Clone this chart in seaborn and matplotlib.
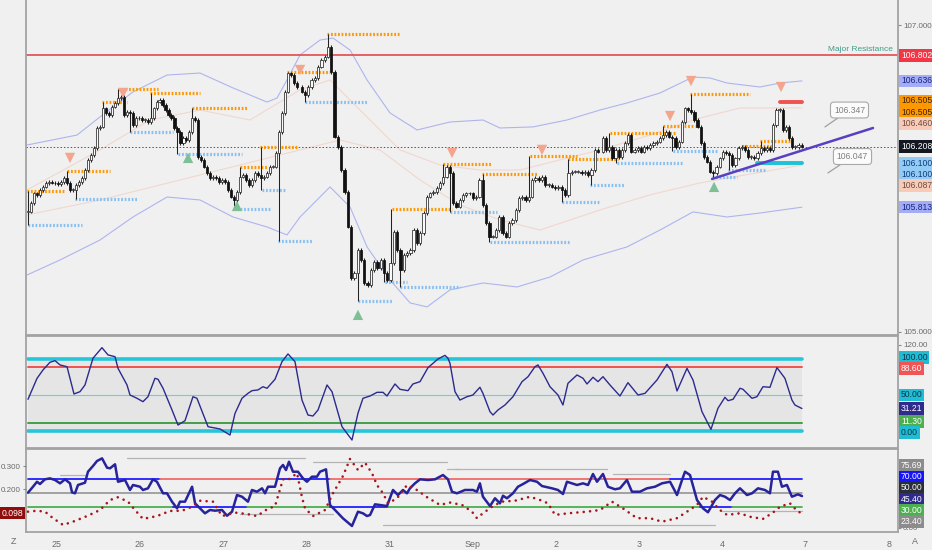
import numpy as np
import pandas as pd
import seaborn as sns
import matplotlib
matplotlib.use('Agg')
from matplotlib import pyplot as plt

# ---- price panel: hourly closes in three stretches ----
closes_aug25_28 = [105.784, 105.838, 105.903, 105.893, 105.925, 105.947, 105.969, 105.979, 105.973, 105.969,
                   105.964, 105.979, 106.001, 105.969, 105.925, 105.925, 105.958, 105.979, 106.001, 106.055,
                   106.121, 106.153, 106.197, 106.327, 106.338, 106.457, 106.425, 106.414, 106.468, 106.490,
                   106.522, 106.533, 106.414, 106.435, 106.425, 106.349, 106.392, 106.392, 106.381, 106.381,
                   106.370, 106.392, 106.457, 106.501, 106.511, 106.479, 106.446, 106.414, 106.392, 106.327,
                   106.305, 106.229, 106.262, 106.251, 106.305, 106.392, 106.381, 106.142, 106.121, 106.077,
                   106.034, 106.001, 106.012, 106.001, 105.979, 105.990, 105.979, 105.925, 105.882, 105.860,
                   105.914, 106.012, 106.023, 105.990, 105.958, 105.990, 106.034, 106.023, 106.001, 106.012,
                   106.034, 106.077, 106.077, 106.164, 106.305, 106.425, 106.566, 106.685, 106.674, 106.620,
                   106.598]
closes_aug28_sep2 = [106.566, 106.544, 106.598, 106.642, 106.653, 106.729, 106.772, 106.794, 106.859, 106.696,
                     106.273, 106.207, 106.055, 105.914, 105.686, 105.350, 105.382, 105.534, 105.469, 105.317,
                     105.306, 105.404, 105.458, 105.415, 105.469, 105.382, 105.339, 105.447, 105.654, 105.534,
                     105.404, 105.502, 105.513, 105.534, 105.665, 105.578, 105.643, 105.773, 105.882, 105.903,
                     105.914, 105.936, 105.969, 106.012, 106.077, 106.034, 105.838, 105.817, 105.860, 105.893,
                     105.903, 105.903, 105.871, 105.882, 105.990, 105.827, 105.708, 105.621, 105.621, 105.665,
                     105.751, 105.643, 105.621, 105.708, 105.730, 105.795, 105.871, 105.882, 105.860, 105.882,
                     105.990, 106.001, 105.990, 106.012, 105.958, 105.958, 105.947, 105.936, 105.947, 105.925,
                     105.893, 106.034, 106.045, 106.045, 106.045, 106.034, 106.045, 106.023, 106.055, 106.186,
                     106.175]
closes_sep2_7 = [106.262, 106.186, 106.207, 106.131, 106.186, 106.142, 106.186, 106.229, 106.283, 106.175,
                 106.186, 106.197, 106.175, 106.207, 106.197, 106.218, 106.229, 106.240, 106.262, 106.283,
                 106.305, 106.273, 106.262, 106.207, 106.240, 106.370, 106.457, 106.446, 106.435, 106.381,
                 106.338, 106.229, 106.142, 106.110, 106.045, 106.034, 106.077, 106.131, 106.175, 106.164,
                 106.153, 106.088, 106.131, 106.197, 106.207, 106.186, 106.142, 106.142, 106.131, 106.164,
                 106.197, 106.186, 106.197, 106.186, 106.348, 106.446, 106.446, 106.316, 106.338, 106.262,
                 106.207, 106.207, 106.218, 106.208]
# time span of each stretch, in trading days (0 = Aug 25)
stretch_spans = [(-0.345, 2.889), (2.945, 6.506), (6.566, 8.954)]

# envelope bands and two moving averages: (day, price)
upper_band = [(-0.357, 106.218), (0.244, 106.283), (0.520, 106.401), (0.917, 106.564), (1.326, 106.674),
              (1.722, 106.687), (2.119, 106.590), (2.528, 106.498), (2.648, 106.524), (2.768, 106.642),
              (2.925, 106.805), (3.165, 106.902), (3.321, 106.915), (3.526, 106.837), (3.730, 106.642),
              (4.006, 106.427), (4.331, 106.316), (4.727, 106.368), (5.124, 106.381), (5.328, 106.329),
              (5.725, 106.336), (6.133, 106.381), (6.530, 106.446), (6.855, 106.492), (7.251, 106.557),
              (7.648, 106.661), (7.852, 106.655), (8.057, 106.622), (8.453, 106.596), (8.694, 106.622),
              (8.958, 106.636)]
lower_band = [(-0.357, 105.371), (0.040, 105.469), (0.520, 105.599), (0.917, 105.749), (1.326, 105.879),
              (1.722, 105.860), (2.119, 105.749), (2.528, 105.684), (2.768, 105.632), (2.925, 105.749),
              (3.285, 105.945), (3.526, 105.814), (3.730, 105.554), (4.006, 105.339), (4.248, 105.189),
              (4.452, 105.163), (4.727, 105.274), (5.124, 105.319), (5.533, 105.293), (5.929, 105.358),
              (6.326, 105.469), (6.530, 105.502), (6.855, 105.554), (7.251, 105.664), (7.648, 105.782),
              (8.057, 105.749), (8.453, 105.775), (8.958, 105.813)]
slow_ma = [(-0.357, 105.762), (0.520, 105.860), (1.722, 106.023), (2.925, 106.186), (3.405, 106.251),
           (3.886, 106.186), (4.367, 105.990), (4.847, 105.827), (5.328, 105.730), (5.809, 105.664),
           (6.530, 105.795), (7.131, 105.893), (7.732, 105.971), (8.453, 106.040), (8.958, 106.087)]
fast_ma = [(-0.357, 105.925), (0.520, 106.186), (1.121, 106.381), (1.722, 106.446), (2.323, 106.381),
           (2.925, 106.577), (3.285, 106.642), (3.646, 106.446), (4.126, 106.186), (4.607, 106.088),
           (5.087, 106.055), (5.568, 106.055), (6.049, 106.121), (6.530, 106.186), (7.131, 106.283),
           (7.732, 106.394), (8.213, 106.459), (8.958, 106.460)]

# pivot levels: (start day, end day, price)
resistance_levels = [(-0.357, 0.100, 105.920), (0.124, 0.641, 106.050), (0.545, 0.845, 106.500),
                     (0.737, 1.218, 106.580), (1.121, 1.722, 106.560), (1.627, 2.299, 106.460),
                     (2.203, 2.528, 106.075), (2.444, 2.889, 106.205), (2.768, 3.285, 106.696),
                     (3.249, 4.126, 106.940), (4.030, 4.751, 105.800), (4.643, 5.232, 106.094),
                     (5.112, 5.785, 106.030), (5.689, 6.253, 106.147), (6.145, 6.746, 106.127),
                     (6.649, 7.430, 106.296), (7.288, 7.673, 106.340), (7.613, 8.334, 106.550),
                     (8.237, 8.609, 106.212), (8.453, 8.813, 106.244)]
support_levels = [(-0.345, 0.304, 105.700), (0.220, 0.965, 105.866), (0.881, 1.398, 106.300),
                  (1.458, 2.227, 106.160), (2.119, 2.564, 105.800), (2.468, 2.744, 105.925),
                  (2.660, 3.082, 105.590), (2.985, 3.730, 106.500), (3.621, 4.042, 105.200),
                  (3.946, 4.210, 105.326), (4.126, 4.847, 105.293), (4.727, 5.292, 105.780),
                  (5.208, 6.169, 105.586), (6.073, 6.530, 105.847), (6.409, 6.830, 105.958),
                  (6.734, 7.516, 106.100), (7.408, 7.948, 106.180), (7.877, 8.177, 106.010),
                  (8.069, 8.513, 106.055)]
sell_marks = [(0.160, 106.134), (0.798, 106.557), (2.925, 106.707), (4.752, 106.166), (5.833, 106.186),
              (7.372, 106.407), (7.624, 106.635), (8.706, 106.596)]
buy_marks = [(1.579, 106.134), (2.167, 105.821), (3.621, 105.111), (7.901, 105.945)]

major_resistance = 106.802
last_price = 106.208
trend_line = [(7.877, 105.997), (9.812, 106.329)]
open_high = (8.694, 8.958, 106.500)
open_low = (8.417, 8.958, 106.100)
callouts = [('106.347', (9.234, 106.336), (9.529, 106.446)),
            ('106.047', (9.270, 106.036), (9.565, 106.143))]
price_tags = [106.802, 106.636, 106.505, 106.505, 106.460, 106.208, 106.100, 106.100, 106.087, 105.813]

# ---- middle oscillator ----
osc_days = [-0.345, -0.237, -0.165, -0.081, -0.020, 0.040, 0.124, 0.208, 0.280, 0.340, 0.436, 0.544, 0.617,
            0.701, 0.737, 0.845, 0.881, 0.965, 1.037, 1.097, 1.181, 1.218, 1.278, 1.386, 1.458, 1.542, 1.638,
            1.686, 1.819, 1.963, 2.083, 2.143, 2.227, 2.299, 2.347, 2.419, 2.479, 2.528, 2.624, 2.708, 2.780,
            2.864, 2.948, 3.020, 3.080, 3.141, 3.249, 3.309, 3.429, 3.549, 3.621, 3.681, 3.766, 3.850, 3.922,
            3.970, 4.066, 4.126, 4.222, 4.282, 4.367, 4.463, 4.583, 4.667, 4.703, 4.727, 4.787, 4.847, 4.931,
            5.003, 5.087, 5.123, 5.208, 5.244, 5.304, 5.388, 5.484, 5.593, 5.665, 5.749, 5.785, 5.845, 5.929,
            6.025, 6.085, 6.145, 6.254, 6.326, 6.374, 6.446, 6.506, 6.566, 6.650, 6.770, 6.866, 6.987, 7.071,
            7.215, 7.335, 7.395, 7.456, 7.576, 7.648, 7.756, 7.864, 7.948, 8.032, 8.069, 8.129, 8.213, 8.249,
            8.357, 8.417, 8.489, 8.573, 8.657, 8.753, 8.837, 8.873, 8.957]
osc_values = [44, 73, 84.7, 95.4, 97.7, 91.7, 89.3, 51.4, 54.6, 63.9, 101, 115.7, 105.6, 103.2, 87, 63.9,
              50, 45.4, 40.7, 47.6, 73.2, 71.8, 59.3, 29.2, 8.3, 14.3, 47.6, 45.4, 6, 2.8, -5.6, 24.4, 45.4,
              52.3, 56, 57, 61.5, 59.3, 71.8, 96.3, 107, 96.3, 43, 22.2, 20.8, 29.2, 63.9, 54.6, 6, -12.5,
              24.6, 45.4, 48.6, 53.7, 53.7, 48.6, 65.3, 57.9, 56, 65.3, 68.5, 88, 100, 105, 101, 94, 54.6,
              43, 47.6, 50, 60.7, 52.3, 26.8, 22.2, 29.2, 36.1, 47.6, 68.5, 75.4, 89.3, 91.7, 80.1, 61.5,
              50, 36.1, 66.2, 77.8, 73.2, 65.3, 74.6, 68.5, 75.4, 63.9, 48.6, 67.1, 50, 52.3, 70.8, 92.6,
              82.4, 55.6, 87, 70.8, 26.8, 2.3, 31.5, 46.8, 42.1, 44, 59.3, 57.9, 45.4, 47.6, 61.5, 60.7, 88,
              73.2, 43, 36.1, 31.21]
osc_bands = {'upper': 100, 'high': 88.6, 'mid': 50, 'low': 11.3, 'lower': 0}
osc_tags = [100, 88.6, 50, 31.21, 11.3, 0]

# ---- lower panel: strength line (right scale) and dotted ratio (left scale), (day, value) ----
strength_line = [(-0.345, 50.3), (-0.285, 58.9), (-0.237, 66.1), (-0.201, 62.8), (-0.141, 69.6),
                 (-0.081, 71), (-0.020, 68.6), (0.040, 63.8), (0.100, 69.6), (0.160, 63.8), (0.184, 50.8),
                 (0.220, 49.4), (0.256, 61.4), (0.340, 64.7), (0.376, 80.6), (0.436, 88.8), (0.484, 96),
                 (0.545, 99.9), (0.605, 86.4), (0.641, 85.5), (0.701, 91.3), (0.737, 66.1), (0.821, 68.6),
                 (0.881, 54.2), (0.917, 61.4), (1.001, 58.9), (1.037, 54.2), (1.097, 56.6), (1.157, 69.6),
                 (1.205, 66.1), (1.278, 49.4), (1.326, 49.4), (1.386, 37.3), (1.446, 27.7), (1.482, 37.3),
                 (1.542, 37.3), (1.627, 58.9), (1.663, 34.9), (1.722, 27.7), (1.782, 20.5), (1.842, 25.3),
                 (1.902, 24.3), (1.987, 25.3), (2.047, 17), (2.107, 22.8), (2.167, 46.9), (2.227, 44.5),
                 (2.299, 37.3), (2.347, 54.2), (2.407, 51.7), (2.468, 56.6), (2.504, 49.4), (2.540, 58.9),
                 (2.624, 58.9), (2.684, 85.5), (2.720, 90.3), (2.756, 83), (2.792, 95), (2.840, 80.6),
                 (2.900, 80.6), (2.960, 71), (3.008, 66.1), (3.068, 73.4), (3.128, 73.4), (3.165, 80.6),
                 (3.237, 84), (3.285, 32.5), (3.345, 25.3), (3.440, 13.3), (3.549, 2.2), (3.621, 22.8),
                 (3.681, 20.5), (3.729, 16.6), (3.766, 18), (3.826, 33.5), (3.886, 32.5), (3.970, 31),
                 (4.042, 54.2), (4.102, 46.9), (4.162, 54.2), (4.210, 49.4), (4.246, 56.6), (4.306, 63.8),
                 (4.367, 69.6), (4.463, 68.6), (4.547, 69.6), (4.643, 75.8), (4.703, 69.6), (4.751, 51.7),
                 (4.811, 49.4), (4.907, 54.2), (5.003, 54.2), (5.051, 51.7), (5.087, 63.8), (5.123, 44.5),
                 (5.208, 31), (5.268, 42.2), (5.328, 34.9), (5.364, 45.9), (5.412, 42.2), (5.484, 49.4),
                 (5.544, 58.9), (5.605, 62.8), (5.689, 68.6), (5.773, 66.1), (5.833, 59.9), (5.953, 56.6),
                 (6.025, 54.2), (6.085, 48.4), (6.133, 66.1), (6.193, 63.8), (6.254, 61.4), (6.326, 63.8),
                 (6.386, 61.4), (6.446, 77.3), (6.494, 66.1), (6.566, 77.3), (6.626, 58.9), (6.710, 55.2),
                 (6.770, 56.6), (6.854, 68.6), (6.914, 51.7), (7.010, 51.7), (7.095, 56.6), (7.191, 58.9),
                 (7.275, 63.8), (7.372, 66.1), (7.456, 46.9), (7.516, 68.6), (7.552, 80.6), (7.612, 75.8),
                 (7.696, 39.7), (7.768, 27.7), (7.828, 22), (7.912, 39.7), (7.972, 46.9), (8.032, 44.5),
                 (8.093, 39.7), (8.153, 49.4), (8.213, 56.6), (8.297, 46.9), (8.357, 49.4), (8.429, 56.6),
                 (8.513, 54.2), (8.573, 49.4), (8.609, 80.6), (8.669, 80.6), (8.717, 58.9), (8.777, 61.4),
                 (8.837, 44.5), (8.909, 47.9), (8.958, 45.4)]
ratio_line = [(-0.345, 0.104), (-0.237, 0.108), (-0.141, 0.104), (-0.044, 0.076), (0.076, 0.047),
              (0.196, 0.061), (0.364, 0.085), (0.520, 0.111), (0.641, 0.154), (0.737, 0.166), (0.857, 0.147),
              (0.941, 0.111), (1.037, 0.073), (1.205, 0.085), (1.362, 0.107), (1.506, 0.108), (1.627, 0.125),
              (1.722, 0.151), (1.878, 0.147), (1.987, 0.085), (2.143, 0.100), (2.287, 0.094), (2.407, 0.085),
              (2.528, 0.114), (2.624, 0.128), (2.720, 0.243), (2.780, 0.240), (2.889, 0.269), (2.948, 0.166),
              (2.985, 0.118), (3.080, 0.085), (3.225, 0.111), (3.321, 0.183), (3.441, 0.257), (3.525, 0.330),
              (3.621, 0.283), (3.706, 0.314), (3.790, 0.269), (3.850, 0.218), (3.922, 0.183), (3.982, 0.140),
              (4.090, 0.161), (4.210, 0.218), (4.330, 0.197), (4.451, 0.166), (4.607, 0.133), (4.727, 0.143),
              (4.871, 0.133), (4.991, 0.104), (5.051, 0.076), (5.123, 0.097), (5.243, 0.128), (5.352, 0.147),
              (5.508, 0.151), (5.689, 0.168), (5.809, 0.154), (5.905, 0.140), (5.990, 0.090), (6.145, 0.097),
              (6.374, 0.104), (6.530, 0.111), (6.674, 0.147), (6.806, 0.118), (6.974, 0.076), (7.131, 0.076),
              (7.275, 0.061), (7.456, 0.076), (7.576, 0.104), (7.696, 0.133), (7.768, 0.168), (7.876, 0.147),
              (7.972, 0.111), (8.057, 0.090), (8.213, 0.097), (8.333, 0.082), (8.489, 0.073), (8.609, 0.100),
              (8.694, 0.125), (8.813, 0.140), (8.909, 0.104), (8.958, 0.098)]
# coloured threshold segments: (start day, end day, level, kind)
strength_segments = [(-0.345, 1.242, 70, 'up'), (1.242, 2.648, 70, 'hot'), (2.648, 3.285, 70, 'up'),
                     (3.285, 7.372, 70, 'hot'), (7.372, 8.958, 70, 'up'),
                     (-0.345, 1.398, 30, 'ok'), (1.398, 2.287, 30, 'up'), (2.287, 3.285, 30, 'ok'),
                     (3.285, 3.982, 30, 'up'), (3.982, 7.732, 30, 'ok'), (7.732, 8.117, 30, 'up'),
                     (8.117, 8.958, 30, 'ok'), (-0.345, 8.958, 50, 'mid')]
range_marks = [(0.040, 0.340, 75.8), (0.845, 2.985, 100.4), (3.080, 4.691, 94.6), (4.691, 4.847, 84.5),
               (2.203, 3.321, 19.5), (4.787, 6.614, 84.5), (6.686, 7.372, 77.3), (3.922, 7.912, 3.6),
               (7.996, 8.958, 23.4)]
strength_tags = [75.69, 70, 50, 45.40, 30, 23.40]
ratio_last = 0.098

day_labels = ['25', '26', '27', '28', '31', 'Sep', '2', '3', '4', '7', '8']

BG = '#f0f0f0'
EDGE = '#a3a3a3'
W, H = 932, 550
FS = 6.2
TICK_FS = 5.8


def build_bars():
    rows = []
    prev = None
    for closes, (t0, t1) in zip([closes_aug25_28, closes_aug28_sep2, closes_sep2_7], stretch_spans):
        xs = np.linspace(t0, t1, len(closes))
        width = (t1 - t0) / (len(closes) - 1) * 0.7
        for x, c in zip(xs, closes):
            o = c if prev is None else prev
            rows.append((x, o, c, width))
            prev = c
    bars = pd.DataFrame(rows, columns=['x', 'open', 'close', 'width'])
    bars['high'] = bars[['open', 'close']].max(axis=1) + 0.012
    bars['low'] = bars[['open', 'close']].min(axis=1) - 0.012
    # pivot levels start at the wick of the bar that made them
    for x0, x1, p in resistance_levels:
        i = (bars['x'] - x0).abs().idxmin()
        bars.loc[i, 'high'] = max(bars.loc[i, 'high'], p)
    for x0, x1, p in support_levels:
        i = (bars['x'] - x0).abs().idxmin()
        bars.loc[i, 'low'] = min(bars.loc[i, 'low'], p)
    return bars


def stack_tags(ax, values, mode, gap=11.2):
    ys = np.array([ax.transData.transform((0, v))[1] for v in values])
    order = np.argsort(-ys, kind='stable')
    pos = ys[order].copy()
    if mode == 'down':
        for k in range(1, len(pos)):
            pos[k] = min(pos[k], pos[k - 1] - gap)
    else:
        for _ in range(300):
            for k in range(1, len(pos)):
                overlap = gap - (pos[k - 1] - pos[k])
                if overlap > 0:
                    pos[k - 1] += overlap / 2
                    pos[k] -= overlap / 2
    out = np.empty_like(pos)
    out[order] = pos
    return out


def draw_tags(fig, ax, values, labels, styles, mode):
    ys = stack_tags(ax, values, mode)
    for y, label, (bg, fg) in zip(ys, labels, styles):
        fig.text(901 / W, y / H, label, fontsize=FS, color=fg, ha='left', va='center',
                 bbox=dict(boxstyle='square,pad=0.2', fc=bg, ec='none'))


def style_axes(ax):
    ax.set_facecolor(BG)
    for side in ['left', 'right', 'top', 'bottom']:
        ax.spines[side].set_color(EDGE)
        ax.spines[side].set_linewidth(1.3)
    ax.tick_params(axis='both', colors='#8a8a8a', labelcolor='#6a6a6a', labelsize=TICK_FS, length=2.5,
                   width=0.8, pad=1.2)


def main():
    sns.set_theme(style='white')
    plt.rcParams['font.family'] = ['Liberation Sans', 'DejaVu Sans']

    fig = plt.figure(figsize=(W / 100, H / 100), dpi=100)
    fig.patch.set_facecolor(BG)
    left, width = 26 / W, 872 / W
    ax_p = fig.add_axes([left, 215 / H, width, 335 / H])
    ax_m = fig.add_axes([left, 102 / H, width, 112 / H])
    ax_b = fig.add_axes([left, 18 / H, width, 83 / H])
    for ax in (ax_p, ax_m, ax_b):
        style_axes(ax)
        ax.set_xlim(-0.369, 10.112)
    ax_p.spines['top'].set_visible(False)

    # ---------------- price panel ----------------
    ax_p.set_ylim(104.980, 107.163)
    for pts, colour, alpha in [(upper_band, '#9ea6ee', 0.8), (lower_band, '#9ea6ee', 0.8),
                               (slow_ma, '#f3a98f', 0.35), (fast_ma, '#f3a98f', 0.35)]:
        d = pd.DataFrame(pts, columns=['day', 'price'])
        sns.lineplot(data=d, x='day', y='price', ax=ax_p, color=colour, alpha=alpha, linewidth=0.8, sort=False)

    ax_p.axhline(major_resistance, color='#e5484d', linewidth=1.2)
    ax_p.axhline(last_price, color='#555555', linewidth=0.7, linestyle=(0, (1.5, 2)))
    ax_p.text(10.05, major_resistance + 0.015, 'Major Resistance', color='#3f9c8b', fontsize=6.0,
              ha='right', va='bottom')

    for x0, x1, p in resistance_levels:
        ax_p.plot([x0, x1], [p, p], color='#ff9800', linewidth=2.3, linestyle=(0, (0.55, 0.55)),
                  solid_capstyle='butt')
    for x0, x1, p in support_levels:
        ax_p.plot([x0, x1], [p, p], color='#86c0f2', linewidth=2.3, linestyle=(0, (0.55, 0.55)),
                  solid_capstyle='butt')

    bars = build_bars()
    ax_p.vlines(bars['x'], bars['low'], bars['high'], color='#222222', linewidth=0.75, zorder=3)
    move = bars['close'] - bars['open']
    body = move.where(move.abs() > 0.004, 0.004)
    bull = bars['close'] >= bars['open']
    ax_p.bar(bars['x'][bull], body[bull], bottom=bars['open'][bull], width=bars['width'][bull],
             color='#fafafa', edgecolor='#2a2a2a', linewidth=0.55, zorder=4)
    ax_p.bar(bars['x'][~bull], body[~bull], bottom=bars['open'][~bull], width=bars['width'][~bull],
             color='#111111', edgecolor='#111111', linewidth=0.55, zorder=4)

    sells = pd.DataFrame(sell_marks, columns=['day', 'price'])
    buys = pd.DataFrame(buy_marks, columns=['day', 'price'])
    sns.scatterplot(data=sells, x='day', y='price', ax=ax_p, marker='v', s=55, color='#f4a58d',
                    edgecolor='none', zorder=5)
    sns.scatterplot(data=buys, x='day', y='price', ax=ax_p, marker='^', s=55, color='#7dbf97',
                    edgecolor='none', zorder=5)

    ax_p.plot([open_high[0], open_high[1]], [open_high[2]] * 2, color='#ef5350', linewidth=2.8)
    ax_p.plot([open_low[0], open_low[1]], [open_low[2]] * 2, color='#1cc2d6', linewidth=2.8)
    (tx0, ty0), (tx1, ty1) = trend_line
    ax_p.plot([tx0, tx1], [ty0, ty1], color='#5a3fc0', linewidth=1.8, zorder=6)

    for label, tip, box in callouts:
        ax_p.annotate(label, xy=tip, xytext=box, fontsize=FS, color='#808080', ha='center', va='center',
                      bbox=dict(boxstyle='round,pad=0.4', fc='#fbfbfb', ec='#a8a8a8', lw=0.8),
                      arrowprops=dict(arrowstyle='-', color='#a0a0a0', lw=0.9, shrinkA=0, shrinkB=0))

    ax_p.yaxis.tick_right()
    ax_p.set_yticks([105, 107])
    ax_p.set_yticklabels(['105.000', '107.000'])
    ax_p.tick_params(axis='x', bottom=False, labelbottom=False)
    ax_p.set_xlabel('')
    ax_p.set_ylabel('')
    price_styles = [('#f23645', 'white'), ('#a3acf6', '#1a237e'), ('#ff9800', '#3b2500'),
                    ('#ff9800', '#3b2500'), ('#f8cbb8', '#6d4c41'), ('#131722', 'white'),
                    ('#93cbf7', '#0d3c7a'), ('#93cbf7', '#0d3c7a'), ('#f8cbb8', '#6d4c41'),
                    ('#a3acf6', '#1a237e')]
    draw_tags(fig, ax_p, price_tags, ['%.3f' % v for v in price_tags], price_styles, 'down')

    # ---------------- oscillator panel ----------------
    ax_m.set_ylim(-23.6, 131.9)
    x_start = stretch_spans[0][0]
    x_end = stretch_spans[-1][1]
    ax_m.fill_between([x_start, x_end], osc_bands['lower'], osc_bands['upper'], color='#dcdcdc', alpha=0.5,
                      linewidth=0)
    ax_m.plot([x_start, x_end], [osc_bands['upper']] * 2, color='#26c6da', linewidth=2.6)
    ax_m.plot([x_start, x_end], [osc_bands['lower']] * 2, color='#26c6da', linewidth=2.6)
    ax_m.plot([x_start, x_end], [osc_bands['high']] * 2, color='#ef5350', linewidth=1.4)
    ax_m.plot([x_start, x_end], [osc_bands['mid']] * 2, color='#5fd3e3', linewidth=0.8)
    ax_m.plot([x_start, x_end], [osc_bands['low']] * 2, color='#43a047', linewidth=1.4)
    sns.lineplot(x=osc_days, y=osc_values, ax=ax_m, color='#2c2a8e', linewidth=1.0, sort=False)
    ax_m.yaxis.tick_right()
    ax_m.set_yticks([120])
    ax_m.set_yticklabels(['120.00'])
    ax_m.tick_params(axis='x', bottom=False, labelbottom=False)
    ax_m.set_xlabel('')
    ax_m.set_ylabel('')
    osc_styles = [('#1fbcd2', '#0b3550'), ('#f05454', 'white'), ('#1fbcd2', '#0b3550'),
                  ('#2f2a8c', 'white'), ('#4caf50', 'white'), ('#1fbcd2', '#0b3550')]
    draw_tags(fig, ax_m, osc_tags, ['%.2f' % v for v in osc_tags], osc_styles, 'center')

    # ---------------- strength panel ----------------
    ax_b.set_ylim(-6.5, 113.4)
    seg_colours = {'up': '#1f1fff', 'hot': '#f26b6b', 'ok': '#4caf50', 'mid': '#8c8c8c'}
    for x0, x1, lvl, kind in strength_segments:
        ax_b.plot([x0, x1], [lvl, lvl], color=seg_colours[kind], linewidth=1.3 if kind != 'mid' else 1.1)
    for x0, x1, lvl in range_marks:
        ax_b.plot([x0, x1], [lvl, lvl], color='#b4b4b4', linewidth=0.9)
    strength = pd.DataFrame(strength_line, columns=['day', 'value'])
    sns.lineplot(data=strength, x='day', y='value', ax=ax_b, color='#27239b', linewidth=1.8, sort=False)
    ax_b.set_xticks(range(len(day_labels)))
    ax_b.set_xticklabels(day_labels)
    ax_b.tick_params(axis='x', labelsize=6.4, pad=3)
    ax_b.set_xlabel('')
    ax_b.set_ylabel('')

    ax_r = ax_b.twinx()
    ax_r.set_ylim(0.0167, 0.373)
    ratio = pd.DataFrame(ratio_line, columns=['day', 'value'])
    ax_r.plot(ratio['day'], ratio['value'], color='#a5161a', linewidth=1.9, linestyle=(0, (0.01, 2.4)),
              dash_capstyle='round')
    ax_r.yaxis.tick_left()
    ax_r.set_yticks([0.2, 0.3])
    ax_r.set_yticklabels(['0.200', '0.300'])
    ax_r.tick_params(axis='y', colors='#8a8a8a', labelcolor='#6a6a6a', labelsize=TICK_FS, length=2.5,
                     width=0.8, pad=1.2)
    for side in ax_r.spines.values():
        side.set_visible(False)
    # twinx moves the host's ticks to the left, so put the strength scale back on the right
    ax_b.yaxis.tick_right()
    ax_b.set_yticks([0])
    ax_b.set_yticklabels(['0.00'])
    ax_b.tick_params(axis='y', colors='#8a8a8a', labelcolor='#6a6a6a', labelsize=TICK_FS, length=2.5,
                     width=0.8, pad=1.2)

    strength_styles = [('#8c8c8c', 'white'), ('#1414ff', 'white'), ('#2a2e39', 'white'),
                       ('#2f2a8c', 'white'), ('#4caf50', 'white'), ('#8c8c8c', 'white')]
    draw_tags(fig, ax_b, strength_tags, ['%.2f' % v for v in strength_tags], strength_styles, 'center')
    y_ratio = ax_r.transData.transform((0, ratio_last))[1]
    fig.text(23 / W, y_ratio / H, '%.3f' % ratio_last, fontsize=FS, color='white', ha='right', va='center',
             bbox=dict(boxstyle='square,pad=0.2', fc='#8e0d0d', ec='none'))

    fig.text(13 / W, 1 - 541 / H, 'Z', fontsize=6.4, color='#6a6a6a', ha='center', va='center')
    fig.text(915 / W, 1 - 541 / H, 'A', fontsize=6.4, color='#6a6a6a', ha='center', va='center')

    fig.savefig('out.png', dpi=100, facecolor=BG)


if __name__ == '__main__':
    main()
